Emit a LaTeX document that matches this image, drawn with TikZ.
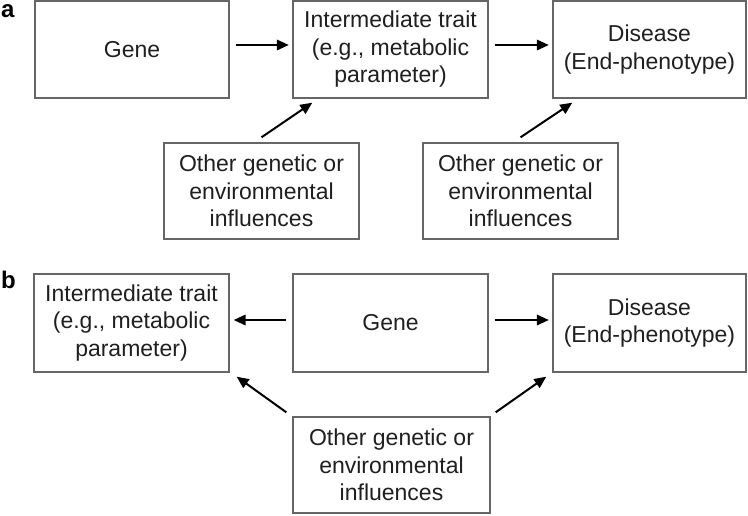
\documentclass[tikz,border=0pt]{standalone}
\usepackage{fontspec}
\setmainfont{Liberation Sans}
\usetikzlibrary{arrows.meta}
\begin{document}
\begin{tikzpicture}[x=1pt,y=-1pt,
  box/.style={draw=black!60, line width=1.4pt, inner sep=0pt, align=center,
    font=\fontsize{23}{27.5}\selectfont, text=black!88},
  arr/.style={-{Triangle[length=12pt,width=10.5pt]}, line width=2pt},
  lbl/.style={anchor=base west, inner sep=0pt, font=\fontsize{24}{24}\selectfont\bfseries}]
\useasboundingbox (0,0) rectangle (748,515);
% panel a
\node[lbl] (la) at (1,17) {a};
\node[box, minimum width=194pt, minimum height=97pt] (geneA) at (132,49.5) {Gene};
\node[box, minimum width=195pt, minimum height=97pt] (intA) at (390.5,49.5) {Intermediate trait\\(e.g., metabolic\\parameter)};
\node[box, minimum width=193pt, minimum height=97pt] (disA) at (649.5,49.5) {Disease\\(End-phenotype)};
\node[box, minimum width=195pt, minimum height=96pt] (oa1) at (261.5,191) {Other genetic or\\environmental\\influences};
\node[box, minimum width=195pt, minimum height=96pt] (oa2) at (520.5,191) {Other genetic or\\environmental\\influences};
\draw[arr] ([xshift=6pt,yshift=4.5pt]geneA.east) -- ([xshift=-3.5pt,yshift=4.5pt]intA.west);
\draw[arr] ([xshift=6pt,yshift=4.5pt]intA.east) -- ([xshift=-3.5pt,yshift=4.5pt]disA.west);
\draw[arr] ([yshift=5pt]oa1.north) -- ([xshift=20pt,yshift=-4pt]intA.south west);
\draw[arr] ([yshift=5pt]oa2.north) -- ([xshift=20pt,yshift=-4pt]disA.south west);
% panel b
\node[lbl] (lb) at (1,288) {b};
\node[box, minimum width=195pt, minimum height=98pt] (intB) at (131.5,323) {Intermediate trait\\(e.g., metabolic\\parameter)};
\node[box, minimum width=195pt, minimum height=98pt] (geneB) at (390.5,323) {Gene};
\node[box, minimum width=193pt, minimum height=98pt] (disB) at (649.5,323) {Disease\\(End-phenotype)};
\node[box, minimum width=197pt, minimum height=96pt] (ob) at (391.5,465) {Other genetic or\\environmental\\influences};
\draw[arr] ([xshift=-6pt,yshift=3pt]geneB.west) -- ([xshift=4pt,yshift=3pt]intB.east);
\draw[arr] ([xshift=6pt,yshift=3pt]geneB.east) -- ([xshift=-3.5pt,yshift=3pt]disB.west);
\draw[arr] ([xshift=-6pt,yshift=4pt]ob.north west) -- ([xshift=7pt,yshift=-4pt]intB.south east);
\draw[arr] ([xshift=5pt,yshift=4pt]ob.north east) -- ([xshift=-6pt,yshift=-4pt]disB.south west);
\end{tikzpicture}
\end{document}
